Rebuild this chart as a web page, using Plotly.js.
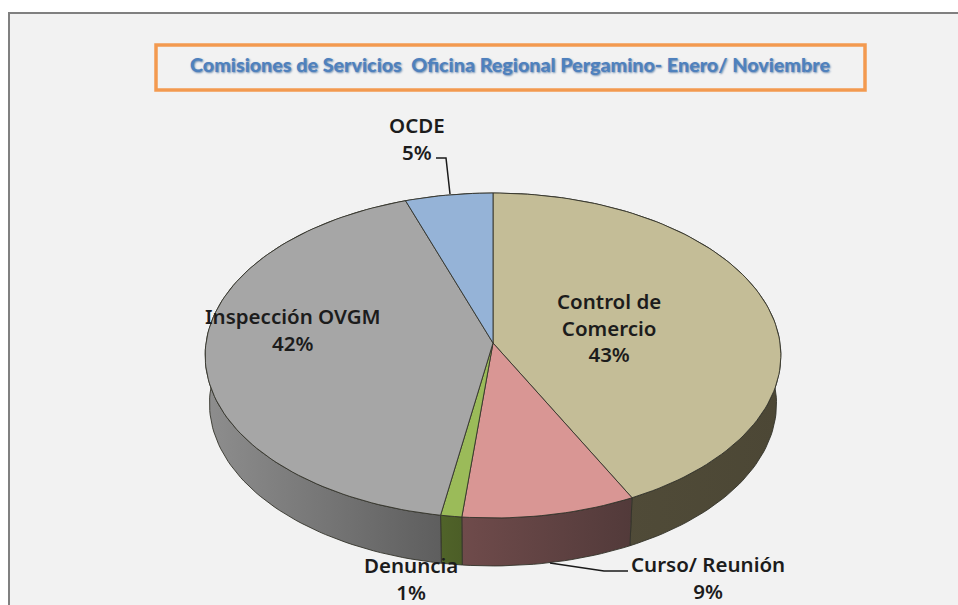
<!DOCTYPE html>
<html>
<head>
<meta charset="utf-8">
<script src="https://cdn.plot.ly/plotly-3.0.1.min.js"></script>
<style>html,body{margin:0;padding:0;background:#fff}#c{width:958px;height:605px}</style>
</head>
<body>
<div id="c"></div>
<script>
// Data
const categories = ["Control de<br>Comercio", "Curso/ Reunión", "Denuncia", "Inspección OVGM", "OCDE"];
const values = [42.55, 9.05, 1.1, 42.0, 5.3];
const topColors = ["#c4bd97", "#d99694", "#9bbb59", "#a6a6a6", "#95b3d7"];
const sideStart = ["#534e3a", "#6f4b4b", "#506329", "#8e8e8e", "#5f7391"];
const sideStop  = ["#4c4735", "#523a3a", "#4c5e27", "#5e5e5e", "#5f7391"];
const titleText = "Comisiones de Servicios  Oficina Regional Pergamino- Enero/ Noviembre";

// Tilted-disc projection of the pie
const CX = 493, CY = 343, RX = 287, RY = 161.5, PERSP = 0.0769, DEPTH = 48, SHRINK = 0.985;
function project(deg, lower) {
  const a = deg * Math.PI / 180, u = Math.sin(a), v = Math.cos(a), w = 1 + PERSP * v;
  const px = RX * u / w, py = RY * v / w;
  return lower ? [CX + px * SHRINK, CY - py + DEPTH] : [CX + px, CY - py];
}
function arc(a0, a1, lower) {
  const n = Math.max(2, Math.ceil(Math.abs(a1 - a0) / 1.5)), pts = [];
  for (let i = 0; i <= n; i++) pts.push(project(a0 + (a1 - a0) * i / n, lower));
  return pts;
}
const total = values.reduce((s, v) => s + v, 0);
let acc = 0;
const slices = values.map(v => { const s = acc; acc += v / total * 360; return [s, acc]; });

const edge = {color: "#33332a", width: 0.9};
const traces = [];
// Side walls first; the top faces cover whatever lies behind them
slices.forEach((s, i) => {
  const pts = arc(s[0], s[1], false).concat(arc(s[1], s[0], true));
  pts.push(pts[0]);
  traces.push({
    type: "scatter", mode: "lines", name: categories[i] + " side", fill: "toself",
    x: pts.map(p => p[0]), y: pts.map(p => p[1]), line: edge, hoverinfo: "skip", showlegend: false,
    fillgradient: {type: "horizontal", colorscale: [[0, sideStart[i]], [1, sideStop[i]]]}
  });
});
slices.forEach((s, i) => {
  const pts = [[CX, CY]].concat(arc(s[0], s[1], false));
  pts.push([CX, CY]);
  traces.push({
    type: "scatter", mode: "lines", name: categories[i], fill: "toself", fillcolor: topColors[i],
    x: pts.map(p => p[0]), y: pts.map(p => p[1]), line: edge, hoverinfo: "skip", showlegend: false
  });
});

// Label positions (page pixels) in category order
const labelX = [609, 708, 411, 293, 417];
const labelY = [327, 577, 578, 329, 138];
const labelFont = {family: "'Noto Sans', 'Open Sans', sans-serif", size: 20.5, color: "#1c1c1c", weight: 600};
const annotations = categories.map((c, i) => ({
  x: labelX[i], y: labelY[i], xref: "x", yref: "y", showarrow: false,
  text: c + "<br>" + values[i].toFixed(0) + "%", align: "center",
  xanchor: "center", yanchor: "middle", font: labelFont
}));

const layout = {
  width: 958, height: 605,
  margin: {l: 0, r: 0, t: 0, b: 0},
  paper_bgcolor: "#ffffff", plot_bgcolor: "#ffffff",
  showlegend: false,
  xaxis: {range: [0, 958], visible: false, fixedrange: true},
  yaxis: {range: [605, 0], visible: false, fixedrange: true},
  title: {
    text: titleText, x: 510 / 958, xanchor: "center", xref: "paper",
    y: 1 - 65 / 605, yanchor: "middle", yref: "paper",
    font: {family: "Lato, sans-serif", size: 19.7, weight: 900, color: "#4f81bd", shadow: "1px 1px 2px #6f8db3"}
  },
  annotations: annotations,
  shapes: [
    {type: "rect", xref: "x", yref: "y", x0: 9, x1: 990, y0: 13, y1: 640, layer: "below",
     fillcolor: "#f2f2f2", line: {color: "#808080", width: 2}},
    {type: "rect", xref: "x", yref: "y", x0: 156, x1: 865, y0: 45, y1: 90, layer: "below",
     fillcolor: "#f2f2f2", line: {color: "#f39a50", width: 3.5}},
    {type: "path", xref: "x", yref: "y", path: "M436,158 L446,158 L450,194", layer: "above",
     line: {color: "#1a1a1a", width: 1.5}},
    {type: "path", xref: "x", yref: "y", path: "M550,563 L604,571 L628,571", layer: "above",
     line: {color: "#1a1a1a", width: 1.5}}
  ]
};
Plotly.newPlot("c", traces, layout, {displayModeBar: false, staticPlot: true});
</script>
</body>
</html>
